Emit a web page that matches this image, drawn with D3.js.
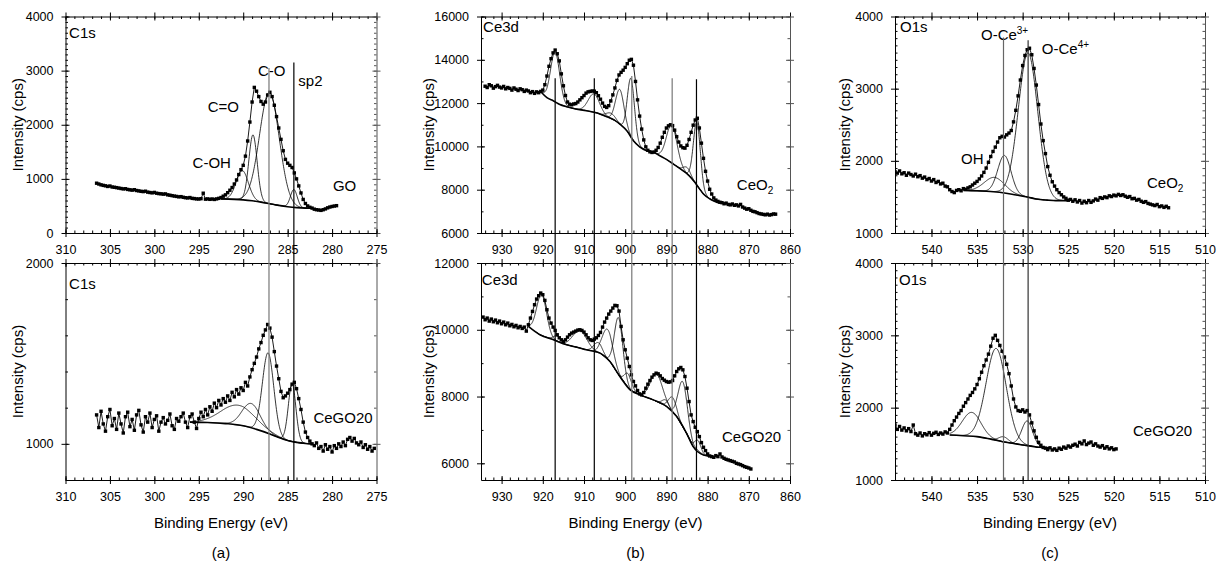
<!DOCTYPE html>
<html>
<head>
<meta charset="utf-8">
<script src="https://cdn.jsdelivr.net/npm/d3@7"></script>
<style>
  body { margin: 0; background: #fff; }
  svg text { font-family: "Liberation Sans", Arial, sans-serif; fill: #000; }
</style>
</head>
<body>
<div id="chart"></div>
<script>
var w = 1218;
var h = 563;

// ---- measured spectra: first energy (eV), step (eV), intensities (cps)
var c1sGO_start = 306.5, c1sGO_step = 0.25;
var c1sGO = [920,905,890,880,872,860,868,850,845,838,
  830,822,815,818,805,798,792,800,785,778,
  770,765,772,755,748,742,750,735,728,724,
  718,722,705,698,690,682,676,668,672,660,
  652,648,655,640,636,630,628,634,735,625,
  630,622,628,620,630,640,655,680,705,745,
  790,840,905,980,1080,1170,1250,1420,1700,2050,
  2420,2690,2620,2520,2430,2380,2420,2550,2600,2520,
  2360,2150,1940,1730,1520,1360,1290,1250,1210,1110,
  1000,870,740,620,545,500,475,460,440,430,
  425,418,430,445,465,480,490,498,505];

var c1sCe_start = 306.5, c1sCe_step = 0.25;
var c1sCe = [1160,1090,1180,1110,1070,1150,1190,1100,1140,1080,
  1170,1110,1060,1150,1175,1095,1135,1075,1160,1185,
  1105,1065,1150,1120,1170,1090,1135,1155,1070,1120,
  1145,1110,1130,1165,1100,1080,1140,1125,1150,1170,
  1120,1090,1150,1165,1120,1085,1140,1175,1150,1190,
  1160,1205,1180,1225,1200,1240,1215,1250,1230,1265,
  1240,1285,1260,1300,1275,1310,1295,1340,1320,1370,
  1410,1445,1480,1525,1560,1600,1630,1660,1640,1590,
  1510,1430,1360,1290,1255,1265,1280,1300,1330,1340,
  1305,1250,1190,1120,1065,1035,1015,1000,990,1005,
  975,985,960,995,970,985,955,990,975,1000,
  985,1010,990,1025,1035,1015,1030,1005,995,1010,
  980,995,970,985,960,975];

var ce3dCeO2_start = 934, ce3dCeO2_step = 0.5;
var ce3dCeO2 = [12780,12720,12850,12800,12690,12760,12820,12740,12700,12770,
  12660,12720,12680,12600,12700,12640,12580,12660,12620,12540,
  12600,12560,12480,12530,12450,12520,12480,12540,12600,12850,
  13250,13700,14050,14320,14450,14280,13950,13350,12800,12350,
  12050,11950,11920,11960,11980,12050,12150,12250,12350,12460,
  12520,12540,12560,12550,12480,12340,12180,12000,11850,11800,
  11880,12100,12380,12700,13050,13300,13420,13520,13650,13820,
  13980,14020,13750,13000,12150,11400,10800,10300,9980,9820,
  9750,9720,9740,9820,9950,10150,10420,10650,10850,10950,
  11000,10960,10750,10450,10200,10020,9940,9920,10050,10320,
  10650,10980,11220,11300,10850,10150,9450,8850,8400,8020,
  7800,7620,7520,7460,7420,7400,7350,7380,7320,7300,
  7340,7280,7300,7250,7320,7200,7150,7100,7120,7050,
  7000,6980,6940,6900,6880,6860,6840,6870,6830,6850,
  6880,6870];

var ce3dCe_start = 934.5, ce3dCe_step = 0.5;
var ce3dCe = [10380,10300,10350,10260,10320,10240,10290,10210,10260,10180,
  10230,10150,10200,10120,10160,10090,10130,10060,10100,10040,
  10080,9960,10150,10350,10550,10750,10920,11020,11100,11050,
  10880,10600,10350,10200,10080,9980,9850,9760,9700,9650,
  9700,9780,9850,9900,9930,9960,9990,10000,9980,9930,
  9850,9760,9700,9680,9720,9760,9830,9920,10080,10230,
  10350,10470,10560,10650,10730,10720,10560,10100,9700,9400,
  9150,8900,8650,8450,8320,8180,8080,8050,8120,8250,
  8370,8480,8580,8650,8700,8680,8620,8540,8490,8450,
  8430,8440,8480,8620,8750,8830,8870,8800,8600,8250,
  7850,7450,7250,7080,6950,6800,6620,6480,6380,6280,
  6220,6200,6180,6230,6200,6280,6190,6150,6120,6100,
  6080,6060,6040,6000,5980,5960,5930,5900,5880,5860,
  5830];

var o1sCeO2_start = 544, o1sCeO2_step = 0.25;
var o1sCeO2 = [1850,1830,1860,1820,1835,1800,1830,1810,1790,1815,
  1780,1795,1760,1775,1740,1755,1720,1740,1700,1715,
  1680,1690,1650,1640,1600,1575,1560,1590,1600,1585,
  1615,1605,1625,1640,1665,1690,1715,1750,1790,1840,
  1900,1980,2060,2130,2190,2260,2320,2340,2330,2360,
  2385,2420,2540,2700,2900,3120,3320,3460,3540,3560,
  3470,3280,3050,2780,2510,2280,2100,1920,1800,1710,
  1650,1600,1560,1530,1500,1480,1455,1465,1440,1460,
  1430,1450,1415,1440,1420,1450,1425,1445,1470,1455,
  1490,1480,1500,1490,1515,1505,1525,1515,1535,1520,
  1530,1510,1495,1505,1475,1480,1455,1465,1440,1425,
  1435,1410,1400,1390,1380,1395,1365,1375,1355,1370,
  1350];

var o1sCe_start = 544, o1sCe_step = 0.25;
var o1sCe = [1760,1700,1740,1690,1720,1680,1710,1670,1760,1640,
  1620,1650,1610,1640,1625,1655,1620,1645,1660,1630,
  1650,1635,1665,1650,1700,1760,1820,1870,1920,1960,
  2020,2070,2120,2170,2210,2260,2320,2400,2490,2580,
  2660,2740,2850,2960,3000,2930,2860,2780,2700,2600,
  2470,2300,2120,2010,1960,1950,1970,1940,1960,1900,
  1790,1680,1590,1520,1480,1450,1440,1420,1445,1415,
  1430,1410,1440,1425,1455,1440,1470,1455,1480,1495,
  1470,1520,1500,1540,1490,1510,1525,1480,1500,1470,
  1455,1475,1440,1460,1430,1445,1420,1430];

// ---- fitted backgrounds [energy, cps]
var c1sGO_bg = [[292.5,630],[291,622],[290,612],[289,595],[288,570],[287,540],[286,510],[285,485],[284,468],[283,460],[282.3,458]];
var c1sCe_bg = [[296,1120],[294,1118],[292,1112],[290,1100],[288.5,1080],[287,1055],[286,1035],[285,1018],[284,1008],[283,1002],[282.3,1000]];
var ce3dCeO2_bg = [[920.3,12490],[919,12250],[917.4,12100],[916,11950],[914.2,11830],[912,11730],[909.4,11650],[907,11550],[904.5,11370],[902.5,11200],[901.3,11030],[899.5,10700],[898,10260],[896.5,9980],[894.8,9800],[893,9720],[891.6,9570],[890,9400],[888.3,9185],[886,8880],[884.5,8650],[883.1,8340],[882,8050],[881,7800],[879.5,7580],[878.6,7490],[877,7380]];
var ce3dCe_bg = [[923.5,10100],[920.7,9850],[917.4,9700],[914.2,9550],[911.5,9470],[909.4,9400],[906.1,9300],[903.7,9050],[901.3,8600],[898.8,8200],[896.4,8050],[893.2,7900],[889.9,7700],[887.5,7400],[885.1,6900],[883.5,6500],[881,6250],[878.6,6200]];
var o1sCeO2_bg = [[536.5,1590],[535,1585],[533.2,1572],[532,1555],[530.7,1526],[529.5,1500],[528.5,1470],[527.3,1455],[526.3,1448],[524.8,1448]];
var o1sCe_bg = [[538,1623],[536.5,1612],[535,1600],[533.5,1565],[532.2,1530],[531,1505],[530,1485],[528.2,1452],[527,1445]];

// ---- fitted components [centre eV, height above background cps, FWHM eV]
var c1sGO_peaks = [[290.1,540,1.6],[288.9,1220,1.1],[287.05,2060,2.6],[284.3,330,0.9]];
var c1sCe_peaks = [[290.6,110,4.5],[289.1,135,2.4],[287.2,445,1.5],[284.5,320,1.0]];
var ce3dCeO2_peaks = [[917.0,2300,2.6],[907.6,850,3.2],[903.5,250,2.5],[901.3,1600,2.4],[898.6,2700,2.0],[888.7,1750,3.0],[885.0,300,2.0],[882.6,2900,2.0]];
var ce3dCe_peaks = [[920.3,1230,2.8],[916.6,150,2.0],[911.0,520,4.0],[906.6,300,2.5],[904.3,900,3.0],[901.6,1700,2.4],[899.3,400,2.0],[892.4,820,3.5],[890.2,180,2.0],[888.5,450,2.2],[886.0,1350,2.6],[882.4,300,1.8]];
var o1sCeO2_peaks = [[533.1,200,2.6],[532.0,520,1.7],[529.4,2000,2.5]];
var o1sCe_peaks = [[535.6,330,2.4],[532.9,1270,2.6],[532.1,70,1.2],[529.5,340,1.4]];

// ---- reference lines [energy eV, top cps in upper panel, colour]
var c1sLines = [[287.1,3050,"#777"],[284.3,3150,"#000"]];
var ce3dLines = [[917.0,13150,"#000"],[907.5,13150,"#000"],[898.4,13250,"#777"],[888.6,13150,"#777"],[882.7,13100,"#000"]];
var o1sLines = [[532.1,3710,"#666"],[529.4,3670,"#333"]];

// ---- annotations [text, eV, cps, subscript, superscript]
var c1sGO_labels = [["C1s",309.6,3607],["GO",279.9,781],["C-OH",295.7,1206],["C=O",294.0,2240],["C-O",288.35,2905],["sp2",283.8,2720]];
var c1sCe_labels = [["C1s",309.6,1857],["CeGO20",282.1,1113]];
var ce3dCeO2_labels = [["Ce3d",934.5,15294],["CeO",872.9,7999,"2"]];
var ce3dCe_labels = [["Ce3d",934.8,11347],["CeGO20",876.5,6631]];
var o1sCeO2_labels = [["O1s",543.45,3788],["O-Ce",534.57,3677,null,"3+"],["O-Ce",527.9,3483,null,"4+"],["OH",536.76,1960],["CeO",516.36,1627,"2"]];
var o1sCe_labels = [["O1s",543.56,3699],["CeGO20",517.9,1615]];

// ---- tick values
var c1sXTicks = [310,305,300,295,290,285,280,275];
var ce3dXTicks = [930,920,910,900,890,880,870,860];
var o1sXTicks = [540,535,530,525,520,515,510];
var c1sGOYTicks = [0,1000,2000,3000,4000];
var c1sCeYTicks = [1000,2000];
var ce3dCeO2YTicks = [6000,8000,10000,12000,14000,16000];
var ce3dCeYTicks = [6000,8000,10000,12000];
var o1sYTicks = [1000,2000,3000,4000];

var colX = [[65.5,376.5],[481,790],[895,1205]];
var rowY = [[16.5,233],[263,480]];
var yTitleOff = [43,47,45];
var captions = ["(a)","(b)","(c)"];

var panels = [
  {col:0,row:0,xDom:[310,275],yDom:[0,4000],xTicks:c1sXTicks,xMinor:1,yTicks:c1sGOYTicks,yMinor:100,start:c1sGO_start,step:c1sGO_step,values:c1sGO,bg:c1sGO_bg,peaks:c1sGO_peaks,labels:c1sGO_labels},
  {col:0,row:1,xDom:[310,275],yDom:[800,2000],xTicks:c1sXTicks,xMinor:1,yTicks:c1sCeYTicks,yMinor:200,start:c1sCe_start,step:c1sCe_step,values:c1sCe,bg:c1sCe_bg,peaks:c1sCe_peaks,labels:c1sCe_labels},
  {col:1,row:0,xDom:[935,860],yDom:[6000,16000],xTicks:ce3dXTicks,xMinor:2,yTicks:ce3dCeO2YTicks,yMinor:1000,start:ce3dCeO2_start,step:ce3dCeO2_step,values:ce3dCeO2,bg:ce3dCeO2_bg,peaks:ce3dCeO2_peaks,labels:ce3dCeO2_labels},
  {col:1,row:1,xDom:[935,860],yDom:[5500,12000],xTicks:ce3dXTicks,xMinor:2,yTicks:ce3dCeYTicks,yMinor:1000,start:ce3dCe_start,step:ce3dCe_step,values:ce3dCe,bg:ce3dCe_bg,peaks:ce3dCe_peaks,labels:ce3dCe_labels},
  {col:2,row:0,xDom:[544,510],yDom:[1000,4000],xTicks:o1sXTicks,xMinor:1,yTicks:o1sYTicks,yMinor:100,start:o1sCeO2_start,step:o1sCeO2_step,values:o1sCeO2,bg:o1sCeO2_bg,peaks:o1sCeO2_peaks,labels:o1sCeO2_labels},
  {col:2,row:1,xDom:[544,510],yDom:[1000,4000],xTicks:o1sXTicks,xMinor:1,yTicks:o1sYTicks,yMinor:100,start:o1sCe_start,step:o1sCe_step,values:o1sCe,bg:o1sCe_bg,peaks:o1sCe_peaks,labels:o1sCe_labels}
];
var colLines = [c1sLines, ce3dLines, o1sLines];

var svg = d3.select("#chart").append("svg")
  .attr("width", w)
  .attr("height", h);

function minorTicks(dom, step) {
  var lo = Math.min(dom[0], dom[1]), hi = Math.max(dom[0], dom[1]);
  return d3.range(Math.ceil(lo / step) * step, hi + step / 100, step);
}

function addAxis(make, scale, transform, majors, minors, labels, color) {
  var g = svg.append("g").attr("transform", transform);
  var out = g.append("g").call(make(scale).tickValues(majors).tickSizeInner(4).tickSizeOuter(0).tickPadding(8)
    .tickFormat(labels ? d3.format("d") : function() { return ""; }));
  out.attr("font-family", null).attr("font-size", 12.5);
  var inn = g.append("g").call(make(scale).tickValues(majors).tickSize(-4).tickFormat(function() { return ""; }));
  var mnr = g.append("g").call(make(scale).tickValues(minors).tickSize(-2.5).tickFormat(function() { return ""; }));
  inn.select(".domain").remove();
  mnr.select(".domain").remove();
  g.selectAll("path, line").attr("stroke", color).attr("stroke-width", 1);
}

panels.forEach(function(p, i) {
  p.left = colX[p.col][0]; p.right = colX[p.col][1];
  p.top = rowY[p.row][0]; p.bottom = rowY[p.row][1];
  var x = d3.scaleLinear().domain(p.xDom).range([p.left, p.right]);
  var y = d3.scaleLinear().domain(p.yDom).range([p.bottom, p.top]);
  p.x = x; p.y = y;

  svg.append("clipPath").attr("id", "clip" + i)
    .append("rect")
    .attr("x", p.left).attr("y", p.top)
    .attr("width", p.right - p.left).attr("height", p.bottom - p.top);
  var plot = svg.append("g").attr("clip-path", "url(#clip" + i + ")");

  var bgScale = d3.scaleLinear()
    .domain(p.bg.map(function(d) { return d[0]; }))
    .range(p.bg.map(function(d) { return d[1]; }))
    .clamp(true);
  var eHi = d3.max(p.bg, function(d) { return d[0]; });
  var eLo = d3.min(p.bg, function(d) { return d[0]; });

  var compLine = d3.line()
    .x(function(d) { return x(d[0]); })
    .y(function(d) { return y(d[1]); });
  var bgLine = d3.line()
    .x(function(d) { return x(d[0]); })
    .y(function(d) { return y(d[1]); })
    .curve(d3.curveMonotoneX);

  //fit components sit on the background
  p.peaks.forEach(function(pk) {
    var hi = Math.min(eHi, pk[0] + 2.6 * pk[2]);
    var lo = Math.max(eLo, pk[0] - 2.6 * pk[2]);
    var pts = d3.range(hi, lo, -0.04).map(function(e) {
      var dx = (e - pk[0]) / pk[2];
      return [e, bgScale(e) + pk[1] * Math.exp(-4 * Math.LN2 * dx * dx)];
    });
    plot.append("path")
      .attr("d", compLine(pts))
      .attr("fill", "none")
      .attr("stroke", "#000")
      .attr("stroke-width", 0.8);
  });

  plot.append("path")
    .attr("d", bgLine(p.bg))
    .attr("fill", "none")
    .attr("stroke", "#000")
    .attr("stroke-width", 1.6);

  //measured points, with a thin trace joining them
  var dataLine = d3.line()
    .x(function(d, k) { return x(p.start - k * p.step); })
    .y(function(d) { return y(d); });
  plot.append("path")
    .attr("d", dataLine(p.values))
    .attr("fill", "none")
    .attr("stroke", "#000")
    .attr("stroke-width", 0.9);

  plot.selectAll(".pt")
    .data(p.values)
    .enter()
    .append("rect")
    .attr("class", "pt")
    .attr("x", function(d, k) { return x(p.start - k * p.step) - 1.7; })
    .attr("y", function(d) { return y(d) - 1.7; })
    .attr("width", 3.4)
    .attr("height", 3.4)
    .attr("fill", "#000");

  //frame with ticks on all sides
  var xm = minorTicks(p.xDom, p.xMinor), ym = minorTicks(p.yDom, p.yMinor);
  addAxis(d3.axisTop, x, "translate(0," + p.top + ")", p.xTicks, xm, false, "#000");
  addAxis(d3.axisRight, y, "translate(" + p.right + ",0)", p.yTicks, ym, false, "#555");
  addAxis(d3.axisBottom, x, "translate(0," + p.bottom + ")", p.xTicks, xm, true, "#000");
  addAxis(d3.axisLeft, y, "translate(" + p.left + ",0)", p.yTicks, ym, true, "#000");

  svg.append("text")
    .attr("transform", "translate(" + (p.left - yTitleOff[p.col]) + "," + ((p.top + p.bottom) / 2) + ") rotate(-90)")
    .attr("text-anchor", "middle")
    .attr("font-size", 15)
    .text("Intensity (cps)");

  p.labels.forEach(function(l) {
    var t = svg.append("text")
      .attr("x", x(l[1]))
      .attr("y", y(l[2]))
      .attr("font-size", 15)
      .text(l[0]);
    if (l[3]) t.append("tspan").attr("font-size", 10).attr("dy", 4).text(l[3]);
    if (l[4]) t.append("tspan").attr("font-size", 10).attr("dy", -6).text(l[4]);
  });

  if (p.row == 1) {
    svg.append("text")
      .attr("x", (p.left + p.right) / 2)
      .attr("y", 528)
      .attr("text-anchor", "middle")
      .attr("font-size", 15)
      .text("Binding Energy (eV)");
    svg.append("text")
      .attr("x", (p.left + p.right) / 2)
      .attr("y", 558)
      .attr("text-anchor", "middle")
      .attr("font-size", 15)
      .text(captions[p.col]);
  }
});

//reference lines run through both panels of a column
colLines.forEach(function(lines, c) {
  var pt = panels.filter(function(p) { return p.col == c && p.row == 0; })[0];
  var pb = panels.filter(function(p) { return p.col == c && p.row == 1; })[0];
  svg.selectAll(".ref" + c)
    .data(lines)
    .enter()
    .append("line")
    .attr("class", "ref" + c)
    .attr("x1", function(d) { return pt.x(d[0]); })
    .attr("x2", function(d) { return pt.x(d[0]); })
    .attr("y1", function(d) { return pt.y(d[1]); })
    .attr("y2", pb.bottom)
    .attr("stroke", function(d) { return d[2]; })
    .attr("stroke-width", 1.2);
});
</script>
</body>
</html>
